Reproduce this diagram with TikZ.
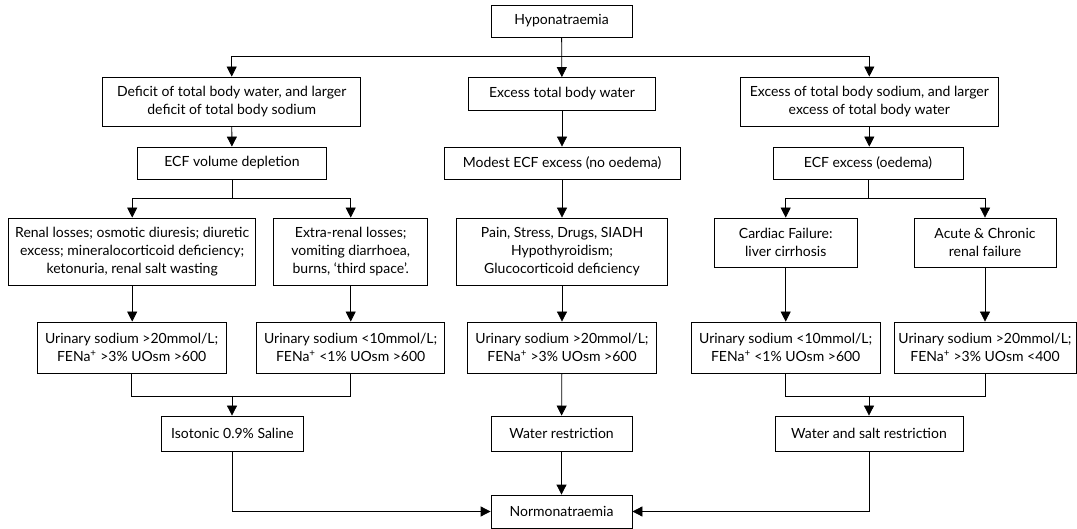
\documentclass[tikz,border=0pt]{standalone}
\usepackage{fontspec}
\setmainfont{Lato}
\usetikzlibrary{arrows.meta}
\begin{document}
\begin{tikzpicture}[x=1pt,y=-1pt,line width=0.8pt,box/.style={draw,align=center,inner sep=1pt,font=\fontsize{14}{18}\selectfont},arr/.style={-{Triangle[width=10pt,length=10pt]}}]
\useasboundingbox (0,0) rectangle (1077,529);
\node[box,minimum width=141pt,minimum height=32pt] (hypo) at (561.5,21) {Hyponatraemia};
\node[box,minimum width=258pt,minimum height=49pt] (deficit) at (231.7,101.5) {Deficit of total body water, and larger\\deficit of total body sodium};
\node[box,minimum width=187pt,minimum height=33pt] (excessW) at (562,94) {Excess total body water};
\node[box,minimum width=258pt,minimum height=49pt] (excessNa) at (869.3,101.5) {Excess of total body sodium, and larger\\excess of total body water};
\node[box,minimum width=189pt,minimum height=32pt] (ecfd) at (232,163) {ECF volume depletion};
\node[box,minimum width=236pt,minimum height=32pt] (modest) at (562,163) {Modest ECF excess (no oedema)};
\node[box,minimum width=190pt,minimum height=32pt] (ecfe) at (868,163) {ECF excess (oedema)};
\node[box,minimum width=247pt,minimum height=67pt] (renal) at (132.2,251.5) {Renal losses; osmotic diuresis; diuretic\\excess; mineralocorticoid deficiency;\\ketonuria, renal salt wasting};
\node[box,minimum width=154pt,minimum height=67pt] (extra) at (350.7,251.5) {Extra-renal losses;\\vomiting diarrhoea,\\burns, `third space'.};
\node[box,minimum width=211pt,minimum height=67pt] (pain) at (562,251.5) {Pain, Stress, Drugs, SIADH\\Hypothyroidism;\\Glucocorticoid deficiency};
\node[box,minimum width=143pt,minimum height=49pt] (cardiac) at (785.7,242.5) {Cardiac Failure:\\liver cirrhosis};
\node[box,minimum width=142pt,minimum height=49pt] (acute) at (985,242.5) {Acute \& Chronic\\renal failure};
\node[box,minimum width=189pt,minimum height=51pt] (uA) at (131.7,347.5) {Urinary sodium >20mmol/L;\\FENa\textsuperscript{+} >3\% UOsm >600};
\node[box,minimum width=188pt,minimum height=51pt] (uB) at (350.7,347.5) {Urinary sodium <10mmol/L;\\FENa\textsuperscript{+} <1\% UOsm >600};
\node[box,minimum width=189pt,minimum height=51pt] (uC) at (562,347.5) {Urinary sodium >20mmol/L;\\FENa\textsuperscript{+} >3\% UOsm >600};
\node[box,minimum width=189pt,minimum height=51pt] (uD) at (785.7,347.5) {Urinary sodium <10mmol/L;\\FENa\textsuperscript{+} <1\% UOsm >600};
\node[box,minimum width=182pt,minimum height=51pt] (uE) at (985,347.5) {Urinary sodium >20mmol/L;\\FENa\textsuperscript{+} >3\% UOsm <400};
\node[box,minimum width=142.5pt,minimum height=35pt] (saline) at (232.5,433.5) {Isotonic 0.9\% Saline};
\node[box,minimum width=141pt,minimum height=35pt] (waterR) at (561.5,433.5) {Water restriction};
\node[box,minimum width=188pt,minimum height=35pt] (saltR) at (869,433.5) {Water and salt restriction};
\node[box,minimum width=141pt,minimum height=33pt] (normo) at (561.5,511.5) {Normonatraemia};
\coordinate (top) at (561.5,56);
\coordinate (splitL) at (232,198);
\coordinate (splitR) at (868,198);
\coordinate (joinL) at (232,396);
\coordinate (joinR) at (869,396);
\draw[arr] (hypo) -- (excessW);
\draw[arr] (top) -| (deficit.north);
\draw[arr] (top) -| (excessNa.north);
\draw[arr] (deficit) -- (ecfd);
\draw[arr] (excessW) -- (modest);
\draw[arr] (excessNa.south) -- (excessNa.south |- ecfe.north);
\draw (ecfd.south) -- (splitL);
\draw[arr] (splitL) -| (renal.north);
\draw[arr] (splitL) -| (extra.north);
\draw[arr] (modest) -- (pain);
\draw (ecfe.south) -- (splitR);
\draw[arr] (splitR) -| (cardiac.north);
\draw[arr] (splitR) -| (acute.north);
\draw[arr] (renal.south) -- (renal.south |- uA.north);
\draw[arr] (extra) -- (uB);
\draw[arr] (pain) -- (uC);
\draw[arr] (cardiac) -- (uD);
\draw[arr] (acute) -- (uE);
\draw (uA.south) |- (joinL);
\draw (uB.south) |- (joinL);
\draw[arr] (joinL) -- (saline.north -| joinL);
\draw[arr] (uC) -- (waterR);
\draw (uD.south) |- (joinR);
\draw (uE.south) |- (joinR);
\draw[arr] (joinR) -- (saltR.north -| joinR);
\draw[arr] (saline.south) |- (normo.west);
\draw[arr] (waterR) -- (normo);
\draw[arr] (saltR.south) |- (normo.east);
\end{tikzpicture}
\end{document}
